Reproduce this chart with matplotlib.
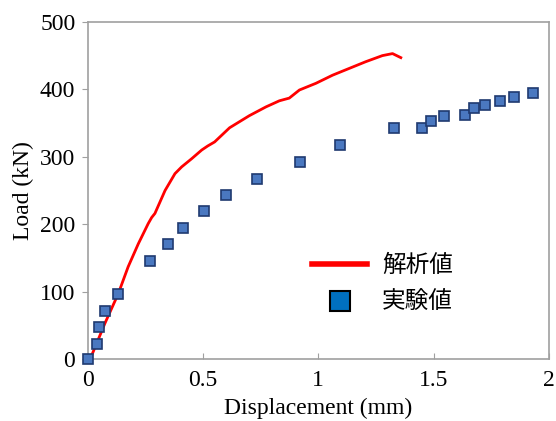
import matplotlib
matplotlib.use("Agg")
import matplotlib.pyplot as plt
from matplotlib.lines import Line2D

# 解析値 (analysis) - red curve
disp_fem = [0.01, 0.074, 0.132, 0.175, 0.219, 0.262, 0.277, 0.291, 0.335, 0.378,
            0.407, 0.45, 0.494, 0.52, 0.55, 0.615, 0.701, 0.773, 0.831, 0.874,
            0.918, 0.99, 1.062, 1.134, 1.206, 1.278, 1.322, 1.358]
load_fem = [0, 53, 97, 137, 171, 201, 210, 216, 250, 275,
            285, 297, 310, 316, 322, 343, 361, 374, 383, 387,
            399, 409, 421, 431, 441, 450, 453, 447]

# 実験値 (experiment) - squares
disp_exp = [0.0, 0.038, 0.049, 0.074, 0.132, 0.27, 0.349, 0.414, 0.504, 0.6,
            0.732, 0.919, 1.096, 1.33, 1.451, 1.491, 1.545, 1.636, 1.675, 1.723,
            1.788, 1.851, 1.932]
load_exp = [0, 22, 47, 71, 96, 145, 170, 195, 219, 244,
            267, 292, 318, 342, 343, 353, 360, 362, 372, 377,
            383, 389, 394]

x_ticks = [0, 0.5, 1, 1.5, 2]
x_ticklabels = ["0", "0.5", "1", "1.5", "2"]
y_ticks = [0, 100, 200, 300, 400, 500]

serif = ["Liberation Serif", "DejaVu Serif"]
cjk = ["Noto Sans CJK JP", "DejaVu Sans"]

fig = plt.figure(figsize=(5.56, 4.21), dpi=100)
ax = fig.add_axes([0.158, 0.147, 0.829, 0.801])

ax.plot(disp_fem, load_fem, color="#ff0000", lw=2, zorder=2)
ax.plot(disp_exp, load_exp, ls="none", marker="s", markersize=6.5,
        markerfacecolor="#4a78c0", markeredgecolor="#1f3a70", markeredgewidth=1.2,
        zorder=3, clip_on=False)

ax.set_xlim(0, 2)
ax.set_ylim(0, 500)
ax.set_xticks(x_ticks)
ax.set_xticklabels(x_ticklabels)
ax.set_yticks(y_ticks)

for s in ax.spines.values():
    s.set_color("#a0a0a0")
    s.set_linewidth(1.2)

ax.tick_params(axis="x", direction="in", length=4, color="#a0a0a0", pad=8)
ax.tick_params(axis="y", direction="out", length=4, color="#a0a0a0", pad=5)
for lab in ax.get_xticklabels() + ax.get_yticklabels():
    lab.set_family(serif)
    lab.set_fontsize(17)

ax.set_xlabel("Displacement (mm)", family=serif, fontsize=17, labelpad=5)
ax.set_ylabel("Load (kN)", family=serif, fontsize=17, labelpad=4)

handles = [
    Line2D([], [], color="#ff0000", lw=4),
    Line2D([], [], ls="none", marker="s", markersize=15,
           markerfacecolor="#0070c0", markeredgecolor="black", markeredgewidth=1.5),
]
leg = ax.legend(handles, ["解析値", "実験値"], loc="upper left",
                bbox_to_anchor=(0.44, 0.375), frameon=False, handlelength=2.35,
                handletextpad=0.62, labelspacing=0.6,
                prop={"family": cjk, "size": 17})

fig.savefig("out.png", dpi=100)
